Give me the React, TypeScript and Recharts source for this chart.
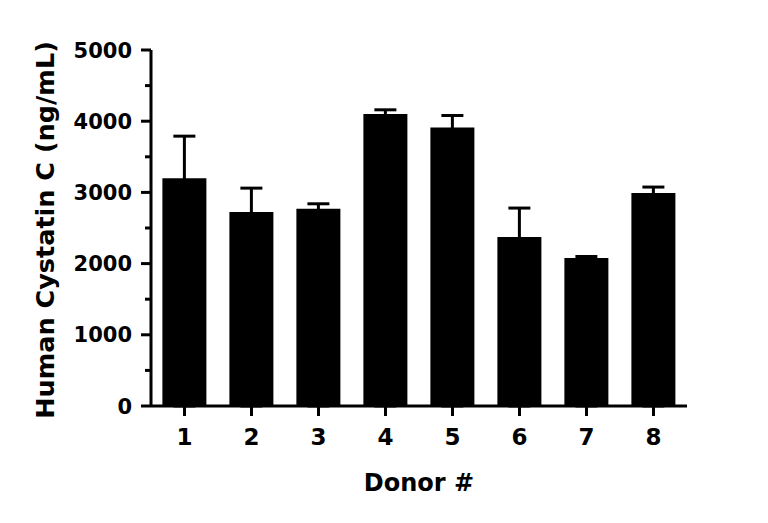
import { BarChart, Bar, XAxis, YAxis, ErrorBar } from 'recharts'

const donors = ['1', '2', '3', '4', '5', '6', '7', '8']
const cystatinMean = [3200, 2725, 2770, 4100, 3910, 2375, 2080, 2990]
const cystatinSd = [590, 335, 70, 60, 170, 405, 20, 85]
const yTicks = [0, 500, 1000, 1500, 2000, 2500, 3000, 3500, 4000, 4500, 5000]

const FONT = '"DejaVu Sans", sans-serif'
const TICK_SIZE = 10
const TICK_MARGIN = 9

// only the upper error is visible; the lower arm runs down inside the black bar
const data = donors.map((d, i) => ({
  donor: d,
  mean: cystatinMean[i],
  err: [cystatinMean[i], cystatinSd[i]],
}))

function YTick(props: any) {
  const { x, y, payload } = props
  const major = payload.value % 1000 === 0
  const axisX = x + TICK_MARGIN + TICK_SIZE
  const len = major ? TICK_SIZE : 6
  return (
    <g>
      <line x1={axisX - len} x2={axisX} y1={y} y2={y} stroke="#000" strokeWidth={3} />
      {major && (
        <text x={x} y={y} dy="0.36em" textAnchor="end" fontSize={21} fontWeight="bold" fontFamily={FONT} fill="#000">
          {payload.value}
        </text>
      )}
    </g>
  )
}

export default function App() {
  return (
    <div style={{ position: 'absolute', left: 0, top: 0, background: '#fff' }}>
      <BarChart
        width={768}
        height={523}
        data={data}
        margin={{ top: 50, right: 81, bottom: 0, left: 0 }}
        barCategoryGap="17%"
      >
        <XAxis
          dataKey="donor"
          height={117}
          axisLine={{ stroke: '#000', strokeWidth: 3 }}
          tickLine={{ stroke: '#000', strokeWidth: 3 }}
          tickSize={TICK_SIZE}
          tickMargin={13}
          tick={{ fill: '#000', fontSize: 23, fontWeight: 'bold', fontFamily: FONT }}
          label={{
            value: 'Donor #',
            position: 'insideBottom',
            offset: 32,
            fill: '#000',
            fontSize: 24,
            fontWeight: 'bold',
            fontFamily: FONT,
          }}
        />
        <YAxis
          width={151}
          domain={[0, 5000]}
          ticks={yTicks}
          interval={0}
          axisLine={{ stroke: '#000', strokeWidth: 3 }}
          tickLine={false}
          tickSize={TICK_SIZE}
          tickMargin={TICK_MARGIN}
          tick={<YTick />}
          label={{
            value: 'Human Cystatin C (ng/mL)',
            angle: -90,
            position: 'center',
            dx: -31,
            dy: 2,
            fill: '#000',
            fontSize: 25.5,
            fontWeight: 'bold',
            fontFamily: FONT,
          }}
        />
        <Bar dataKey="mean" fill="#000" isAnimationActive={false}>
          <ErrorBar dataKey="err" direction="y" width={11} stroke="#000" strokeWidth={3} isAnimationActive={false} />
        </Bar>
      </BarChart>
    </div>
  )
}
